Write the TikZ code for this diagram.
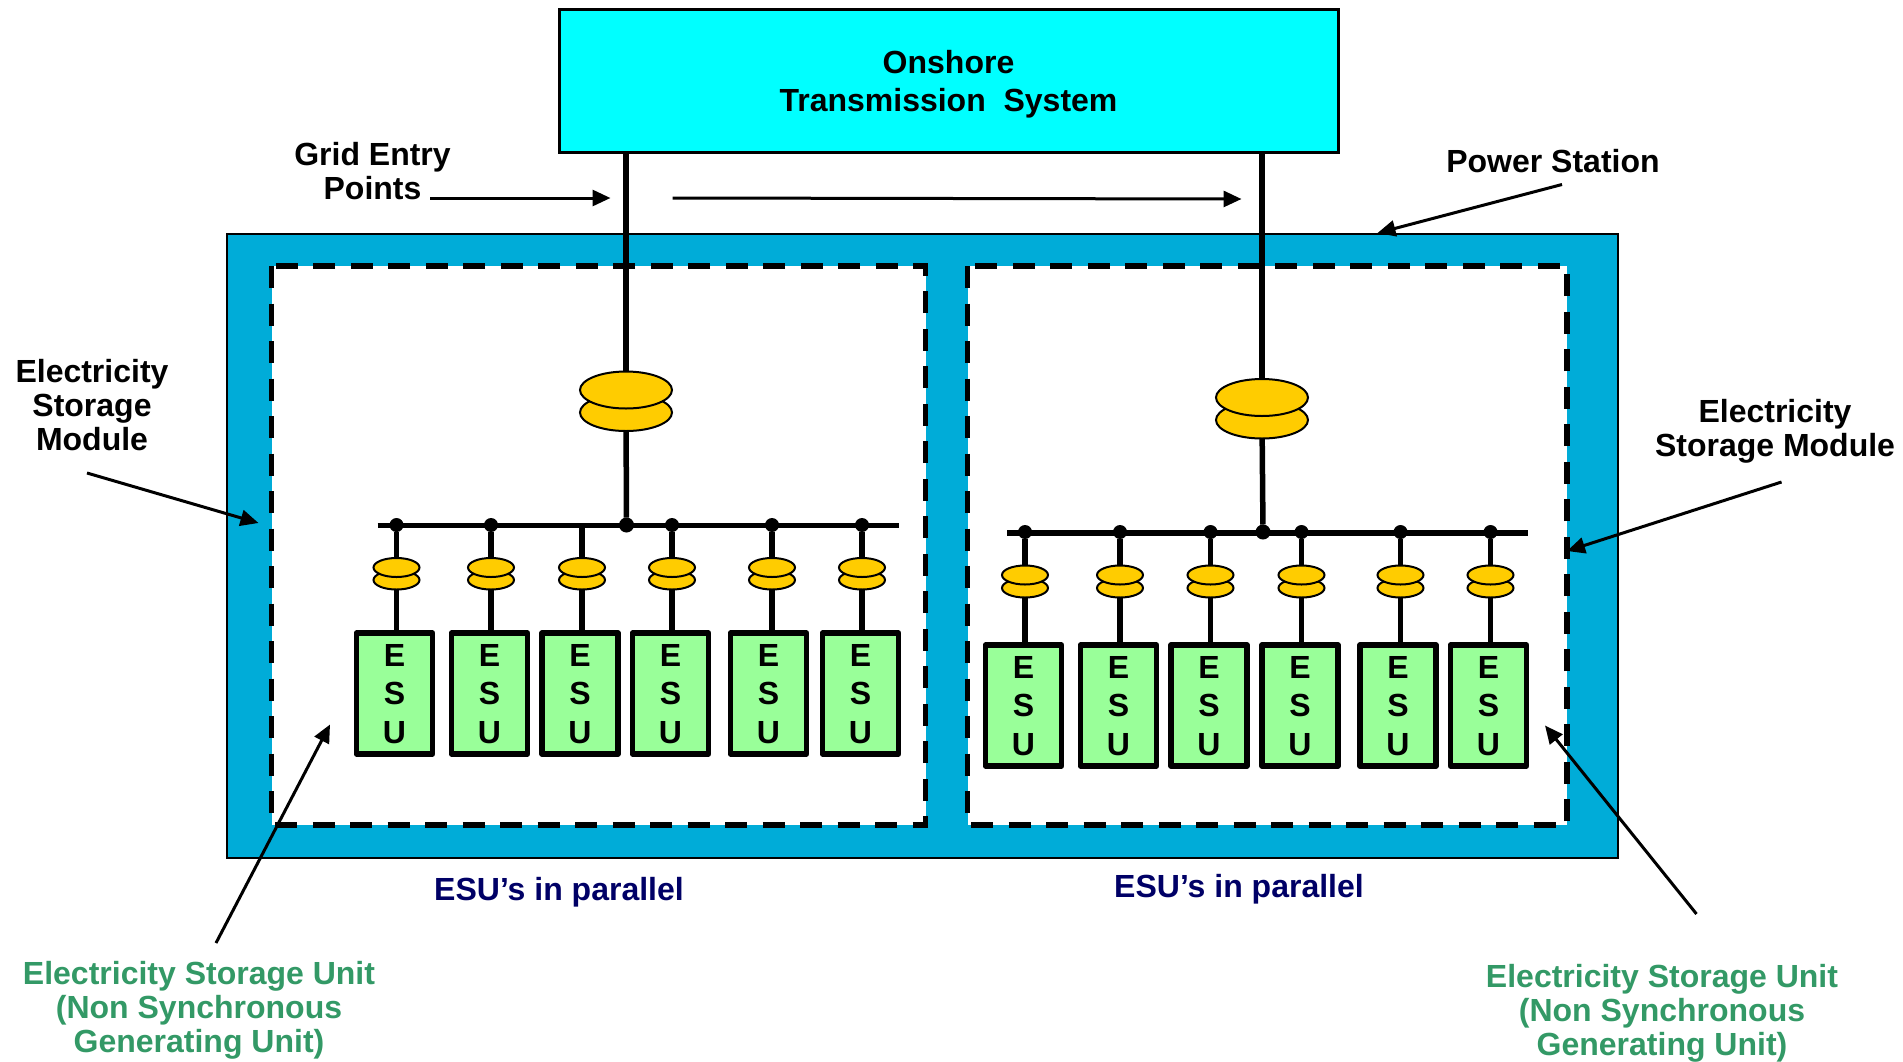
\documentclass[tikz,border=0pt]{standalone}
\usepackage{fontspec}
\setmainfont{Liberation Sans}
\usepackage{tkz-graph}
\usetikzlibrary{shapes.geometric,arrows.meta}
\definecolor{modblue}{HTML}{00ACD8}
\definecolor{gridcyan}{HTML}{00FFFF}
\definecolor{coilyellow}{HTML}{FFCC00}
\definecolor{esugreen}{HTML}{99FF99}
\definecolor{unitgreen}{HTML}{339966}
\definecolor{esunavy}{HTML}{000066}

\begin{document}
\begin{tikzpicture}[x=1pt,y=-1pt]
\useasboundingbox (0,0) rectangle (1903,1061);
\SetVertexNoLabel
\tikzset{labeltext/.style = {font = \fontsize{32}{34}\selectfont\bfseries, align = center, inner sep = 0pt}}
\tikzset{esubox/.style = {draw = black, fill = esugreen, line width = 5.5pt, line join = round, minimum width = 76pt, minimum height = 121pt, inner sep = 0pt, align = center, text depth = -7pt, font = \fontsize{32}{38.5}\selectfont\bfseries}}
\tikzset{module/.style = {draw = black, fill = white, line width = 5.5pt, dash pattern = on 22pt off 15.5pt}}

\draw[fill = modblue, line width = 2pt] (227,234) rectangle (1618,858);
\draw[module] (271.5,266) rectangle (925.5,825);
\draw[module] (967.5,266) rectangle (1567,825);

\node[draw = black, fill = gridcyan, line width = 3pt, minimum width = 779pt, minimum height = 143pt, text depth = -15pt, font = \fontsize{32}{38}\selectfont\bfseries, align = center] (ots) at (948.5,80.5) {Onshore\\Transmission~~System};

   \coordinate (gep0) at (626,152);
   \coordinate (gep) at (1262,152);
   \coordinate (busl0) at (377.5,525.5);
   \coordinate (busr0) at (899,525.5);
   \coordinate (busl) at (1007,533);
   \coordinate (busr) at (1528,533);
   \coordinate (Jc0) at (582,525.5);

\tikzset{VertexStyle/.style = {shape = ellipse,draw = black,fill = coilyellow,line width = 2pt,minimum width = 92pt,minimum height = 37pt, inner sep = 0pt}}
   \Vertex[x=626 ,y=412.5]{Dm0}
   \Vertex[x=626 ,y=390]{Um0}
   \Vertex[x=1262 ,y=420]{Dm}
   \Vertex[x=1262 ,y=397.5]{Um}

\tikzset{VertexStyle/.style = {shape = circle,fill = black,minimum size = 15pt, inner sep = 0pt}}
   \Vertex[x=626.5 ,y=525]{Jm0}
   \Vertex[x=1263 ,y=532]{Jm}

\tikzset{VertexStyle/.style = {shape = circle,fill = black,minimum size = 14pt, inner sep = 0pt}}
   \Vertex[x=396.5 ,y=525]{Ja0}
   \Vertex[x=491 ,y=525]{Jb0}
   \Vertex[x=672 ,y=525]{Jd0}
   \Vertex[x=772 ,y=525]{Je0}
   \Vertex[x=862 ,y=525]{Jf0}
   \Vertex[x=1025 ,y=532]{Ja}
   \Vertex[x=1120 ,y=532]{Jb}
   \Vertex[x=1210.5 ,y=532]{Jc}
   \Vertex[x=1301.5 ,y=532]{Jd}
   \Vertex[x=1400.5 ,y=532]{Je}
   \Vertex[x=1490.5 ,y=532]{Jf}

\tikzset{VertexStyle/.style = {shape = ellipse,draw = black,fill = coilyellow,line width = 2pt,minimum width = 46pt,minimum height = 19pt, inner sep = 0pt}}
   \Vertex[x=396.5 ,y=580]{Da0}
   \Vertex[x=396.5 ,y=567.5]{Ua0}
   \Vertex[x=491 ,y=580]{Db0}
   \Vertex[x=491 ,y=567.5]{Ub0}
   \Vertex[x=582 ,y=580]{Dc0}
   \Vertex[x=582 ,y=567.5]{Uc0}
   \Vertex[x=672 ,y=580]{Dd0}
   \Vertex[x=672 ,y=567.5]{Ud0}
   \Vertex[x=772 ,y=580]{De0}
   \Vertex[x=772 ,y=567.5]{Ue0}
   \Vertex[x=862 ,y=580]{Df0}
   \Vertex[x=862 ,y=567.5]{Uf0}
   \Vertex[x=1025 ,y=588]{Da}
   \Vertex[x=1025 ,y=575]{Ua}
   \Vertex[x=1120 ,y=588]{Db}
   \Vertex[x=1120 ,y=575]{Ub}
   \Vertex[x=1210.5 ,y=588]{Dc}
   \Vertex[x=1210.5 ,y=575]{Uc}
   \Vertex[x=1301.5 ,y=588]{Dd}
   \Vertex[x=1301.5 ,y=575]{Ud}
   \Vertex[x=1400.5 ,y=588]{De}
   \Vertex[x=1400.5 ,y=575]{Ue}
   \Vertex[x=1490.5 ,y=588]{Df}
   \Vertex[x=1490.5 ,y=575]{Uf}

   \node[esubox] (Ea0) at (394.5,693.5) {E\\S\\U};
   \node[esubox] (Eb0) at (489.5,693.5) {E\\S\\U};
   \node[esubox] (Ec0) at (580,693.5) {E\\S\\U};
   \node[esubox] (Ed0) at (670.5,693.5) {E\\S\\U};
   \node[esubox] (Ee0) at (768.5,693.5) {E\\S\\U};
   \node[esubox] (Ef0) at (860.5,693.5) {E\\S\\U};
   \node[esubox] (Ea) at (1023.5,705.5) {E\\S\\U};
   \node[esubox] (Eb) at (1118.5,705.5) {E\\S\\U};
   \node[esubox] (Ec) at (1209,705.5) {E\\S\\U};
   \node[esubox] (Ed) at (1300,705.5) {E\\S\\U};
   \node[esubox] (Ee) at (1398,705.5) {E\\S\\U};
   \node[esubox] (Ef) at (1488.5,705.5) {E\\S\\U};

\tikzset{EdgeStyle/.style = {line width = 5.5pt}}
   \Edge(busl0)(busr0)
   \Edge(busl)(busr)
   \Edge(gep0)(Um0)
   \Edge(gep)(Um)
   \Edge(Dm0)(Jm0)
   \Edge(Dm)(Jm)
   \Edge(Ja0)(Ua0)
   \Edge(Jb0)(Ub0)
   \Edge(Jc0)(Uc0)
   \Edge(Jd0)(Ud0)
   \Edge(Je0)(Ue0)
   \Edge(Jf0)(Uf0)
   \Edge(Ja)(Ua)
   \Edge(Jb)(Ub)
   \Edge(Jc)(Uc)
   \Edge(Jd)(Ud)
   \Edge(Je)(Ue)
   \Edge(Jf)(Uf)
   \Edge(Da0)(Da0 |- Ea0.north)
   \Edge(Db0)(Db0 |- Eb0.north)
   \Edge(Dc0)(Dc0 |- Ec0.north)
   \Edge(Dd0)(Dd0 |- Ed0.north)
   \Edge(De0)(De0 |- Ee0.north)
   \Edge(Df0)(Df0 |- Ef0.north)
   \Edge(Da)(Da |- Ea.north)
   \Edge(Db)(Db |- Eb.north)
   \Edge(Dc)(Dc |- Ec.north)
   \Edge(Dd)(Dd |- Ed.north)
   \Edge(De)(De |- Ee.north)
   \Edge(Df)(Df |- Ef.north)

   \node[labeltext] (gridtxt) at (372.5,171) {Grid Entry\\Points};
   \node[labeltext] (powertxt) at (1553,161) {Power Station};
   \node[labeltext] (modtxt0) at (92,405.5) {Electricity\\Storage\\Module};
   \node[labeltext] (modtxt) at (1775,431.5) {Electricity\\Storage Module};
   \node[labeltext, text = esunavy] (partxt0) at (559,892.5) {ESU’s in parallel};
   \node[labeltext, text = esunavy] (partxt) at (1239,889.5) {ESU’s in parallel};
   \node[labeltext, text = unitgreen] (unittxt0) at (199,1010) {Electricity Storage Unit\\(Non Synchronous\\Generating Unit)};
   \node[labeltext, text = unitgreen] (unittxt) at (1662,1013.5) {Electricity Storage Unit\\(Non Synchronous\\Generating Unit)};

   \coordinate (a1) at (430,198);
   \coordinate (b1) at (610.5,198);
   \coordinate (a2) at (672.5,198);
   \coordinate (b2) at (1241.5,199);
   \coordinate (a3) at (1562,184.5);
   \coordinate (b3) at (1377.5,233);
   \coordinate (a4) at (87,473);
   \coordinate (b4) at (258.5,523);
   \coordinate (a5) at (1781.5,482);
   \coordinate (b5) at (1567,551);
   \coordinate (a6) at (216,943);
   \coordinate (b6) at (330,724.5);
   \coordinate (a7) at (1696.5,914);
   \coordinate (b7) at (1545,725.5);
\tikzset{EdgeStyle/.style = {line width = 3pt, -{Triangle[length=18pt,width=16pt]}}}
   \Edge(a1)(b1)
   \Edge(a2)(b2)
   \Edge(a3)(b3)
   \Edge(a4)(b4)
   \Edge(a5)(b5)
   \Edge(a6)(b6)
   \Edge(a7)(b7)
\end{tikzpicture}
\end{document}
